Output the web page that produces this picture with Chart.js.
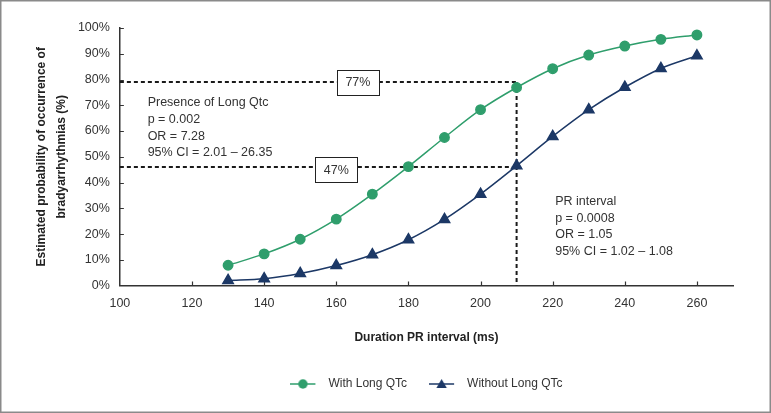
<!DOCTYPE html>
<html><head><meta charset="utf-8">
<script src="https://cdn.jsdelivr.net/npm/chart.js@4/dist/chart.umd.min.js"></script>
<style>html,body{margin:0;padding:0;background:#fff}#wrap{width:771px;height:413px;position:relative}</style>
</head><body><div id="wrap"><canvas id="c" width="771" height="413"></canvas></div>
<script>
// ---- data ----
const prInterval = [130,140,150,160,170,180,190,200,210,220,230,240,250,260];
const withLongQTc = [7.9,12.3,18.0,25.8,35.5,46.2,57.5,68.3,76.9,84.2,89.5,93.0,95.6,97.3];
const withoutLongQTc = [2.0,2.7,4.7,7.8,12.0,17.8,25.7,35.5,46.5,57.9,68.3,77.0,84.3,89.2];
const seriesNames = ['With Long QTc','Without Long QTc'];
const yTickValues = [0,10,20,30,40,50,60,70,80,90,100];
const xTickValues = [100,120,140,160,180,200,220,240,260];
// reference lines (value space)
const refUpperY = 79, refLowerY = 46, refX = 210;
const refLabels = ['77%','47%'];
const refLabelX = [166, 160];
const refLabelY = [79, 45];
const noteQtc = ['Presence of Long Qtc','p = 0.002','OR = 7.28','95% CI = 2.01 \u2013 26.35'];
const notePr = ['PR interval','p = 0.0008','OR = 1.05','95% CI = 1.02 \u2013 1.08'];
const noteQtcPos = [107.7, 71.0];
const notePrPos = [220.7, 32.6];

const GREEN = '#2f9e6c', NAVY = '#1c3866', TXT = '#333333';
const FONT = "'Liberation Sans',Arial,sans-serif";

function legendImg(color, shape){
  const c = document.createElement('canvas'); c.width = 32; c.height = 12;
  const g = c.getContext('2d');
  g.strokeStyle = color; g.lineWidth = 1.5;
  g.beginPath(); g.moveTo(0,6); g.lineTo(25,6); g.stroke();
  g.fillStyle = color; g.beginPath();
  if (shape === 'circle'){ g.arc(12.5,6,4.7,0,Math.PI*2); }
  else { const r=6; g.moveTo(12.5,7-r); g.lineTo(12.5+r*0.866,7+r/2); g.lineTo(12.5-r*0.866,7+r/2); g.closePath(); }
  g.fill();
  return c;
}
const legendImgs = [legendImg(GREEN,'circle'), legendImg(NAVY,'triangle')];

const annot = {
  id:'annot',
  beforeDraw(chart){
    const ctx = chart.ctx; ctx.save();
    ctx.fillStyle='#fff'; ctx.fillRect(0,0,chart.width,chart.height);
    ctx.strokeStyle='#8a8a8a'; ctx.lineWidth=1.5;
    ctx.strokeRect(0.75,0.75,chart.width-1.5,chart.height-1.5);
    ctx.restore();
  },
  beforeDatasetsDraw(chart){
    const {ctx, scales:{x,y}} = chart;
    ctx.save();
    ctx.strokeStyle='#1a1a1a'; ctx.lineWidth=2; ctx.setLineDash([4,3]);
    ctx.beginPath();
    ctx.moveTo(x.left, y.getPixelForValue(refUpperY)); ctx.lineTo(x.getPixelForValue(refX), y.getPixelForValue(refUpperY));
    ctx.moveTo(x.left, y.getPixelForValue(refLowerY)); ctx.lineTo(x.getPixelForValue(refX), y.getPixelForValue(refLowerY));
    ctx.moveTo(x.getPixelForValue(refX), y.getPixelForValue(refUpperY)); ctx.lineTo(x.getPixelForValue(refX), y.bottom);
    ctx.stroke();
    ctx.setLineDash([]);
    // inward tick marks
    ctx.strokeStyle='#333'; ctx.lineWidth=1.2; ctx.beginPath();
    yTickValues.forEach(v=>{ if(v===0) return; const py=Math.round(y.getPixelForValue(v))+0.5; ctx.moveTo(x.left,py); ctx.lineTo(x.left+4,py); });
    xTickValues.forEach(v=>{ if(v===100) return; const px=Math.round(x.getPixelForValue(v))+0.5; ctx.moveTo(px,y.bottom); ctx.lineTo(px,y.bottom-4); });
    ctx.stroke();
    // label boxes
    ctx.font = '12.5px '+FONT; ctx.textAlign='center'; ctx.textBaseline='middle';
    refLabels.forEach((t,i)=>{
      const cx = x.getPixelForValue(refLabelX[i]), cy = y.getPixelForValue(refLabelY[i]);
      ctx.fillStyle='#fff'; ctx.fillRect(cx-21,cy-12.5,42,25);
      ctx.strokeStyle='#222'; ctx.lineWidth=1; ctx.strokeRect(Math.round(cx-21)+0.5,Math.round(cy-12.5)+0.5,42,25);
      ctx.fillStyle=TXT; ctx.fillText(t,cx,cy+0.5);
    });
    // notes
    ctx.textAlign='left';
    [[noteQtc,noteQtcPos],[notePr,notePrPos]].forEach(([lines,pos])=>{
      const px = x.getPixelForValue(pos[0]); const py = y.getPixelForValue(pos[1]);
      lines.forEach((l,i)=>ctx.fillText(l,px,py+i*16.7));
    });
    ctx.restore();
  }
};

new Chart(document.getElementById('c'), {
  type:'line',
  data:{ datasets:[
    { label:seriesNames[0], data:prInterval.map((p,i)=>({x:p,y:withLongQTc[i]})), borderColor:GREEN, backgroundColor:GREEN,
      borderWidth:1.5, pointStyle:'circle', pointRadius:4.7, pointHoverRadius:4.7, tension:0.4, cubicInterpolationMode:'monotone' },
    { label:seriesNames[1], data:prInterval.map((p,i)=>({x:p,y:withoutLongQTc[i]})), borderColor:NAVY, backgroundColor:NAVY,
      borderWidth:1.5, pointStyle:'triangle', pointRadius:6, pointHoverRadius:6, tension:0.4, cubicInterpolationMode:'monotone' }
  ]},
  options:{
    responsive:false, animation:false, devicePixelRatio:1,
    layout:{ padding:{ top:28, right:38, left:32.5, bottom:13 } },
    events:[],
    plugins:{
      tooltip:{enabled:false},
      legend:{ position:'bottom', fullSize:false, labels:{ usePointStyle:true, pointStyleWidth:32, padding:22, color:TXT, font:{family:FONT,size:12},
        generateLabels(chart){ return chart.data.datasets.map((d,i)=>({text:d.label, pointStyle:legendImgs[i], fillStyle:d.borderColor, strokeStyle:d.borderColor, lineWidth:0, hidden:false, datasetIndex:i, fontColor:TXT})); } } }
    },
    scales:{
      x:{ type:'linear', min:100, max:270,
        afterBuildTicks(s){ s.ticks = xTickValues.map(v=>({value:v})); },
        grid:{ drawOnChartArea:false, drawTicks:false }, border:{ color:'#333', width:1.5 },
        ticks:{ color:TXT, padding:10.5, font:{family:FONT,size:12.5} },
        title:{ display:true, text:'Duration PR interval (ms)', color:'#222', font:{family:FONT,size:12,weight:'bold'}, padding:{top:9,bottom:11} } },
      y:{ min:0, max:100,
        afterBuildTicks(s){ s.ticks = yTickValues.map(v=>({value:v})); },
        grid:{ drawOnChartArea:false, drawTicks:false }, border:{ color:'#333', width:1.5 },
        ticks:{ color:TXT, padding:10, font:{family:FONT,size:12.5}, callback:v=>v+'%' },
        title:{ display:true, text:['Estimated probability of occurrence of','bradyarrhythmias (%)'], color:'#222', font:{family:FONT,size:12,weight:'bold',lineHeight:1.6}, padding:{top:0,bottom:-3} } }
    }
  },
  plugins:[annot]
});
</script></body></html>
